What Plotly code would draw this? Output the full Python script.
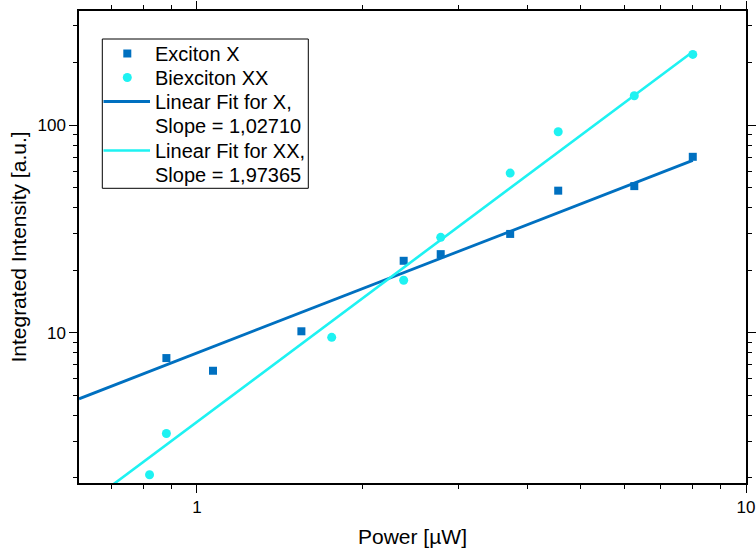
import numpy as np
import plotly.graph_objects as go

# Measured integrated intensities vs. excitation power
power_x = [0.88, 1.07, 1.55, 2.38, 2.78, 3.72, 4.55, 6.26, 8.0]
intensity_x = [7.55, 6.56, 10.16, 22.2, 23.9, 29.9, 48.3, 50.8, 70.3]

power_xx = [0.82, 0.88, 1.76, 2.38, 2.78, 3.72, 4.55, 6.26, 8.0]
intensity_xx = [2.07, 3.27, 9.5, 17.9, 28.8, 58.7, 92.8, 138.4, 218.8]

# Slopes of the linear fits in log-log space
slope_x = 1.02710
slope_xx = 1.97365
fit_power_range = [0.61, 8.0]

series_names = ["Exciton X", "Biexciton XX"]
fit_names = [
    "Linear Fit for X,",
    "Linear Fit for XX,",
]

blue = "#0070C0"
cyan = "#1EF2F2"
font_family = "Arial, 'Liberation Sans', sans-serif"

W, H = 756, 555
ML, MR, MT, MB = 79, 10, 11, 72
PW, PH = W - ML - MR, H - MT - MB


def px_x(p):
    return (p - ML) / PW


def px_y(p):
    return 1 - (p - MT) / PH


def loglog_fit_line(px, py, slope, xr):
    lx = np.log10(px)
    ly = np.log10(py)
    intercept = ly.mean() - slope * lx.mean()
    xs = np.array(xr)
    return xs, 10 ** (intercept + slope * np.log10(xs))


def slope_text(s):
    return "Slope = " + f"{s:.5f}".replace(".", ",")


fx_x, fy_x = loglog_fit_line(power_x, intensity_x, slope_x, fit_power_range)
fx_xx, fy_xx = loglog_fit_line(power_xx, intensity_xx, slope_xx, fit_power_range)

fig = go.Figure()
fig.add_trace(go.Scatter(
    x=power_x, y=intensity_x, mode="markers", name=series_names[0],
    marker=dict(symbol="square", size=8, color=blue),
))
fig.add_trace(go.Scatter(
    x=power_xx, y=intensity_xx, mode="markers", name=series_names[1],
    marker=dict(symbol="circle", size=9, color=cyan),
))
fig.add_trace(go.Scatter(
    x=fx_x, y=fy_x, mode="lines", name=fit_names[0] + " " + slope_text(slope_x),
    line=dict(color=blue, width=2.8),
))
fig.add_trace(go.Scatter(
    x=fx_xx, y=fy_xx, mode="lines", name=fit_names[1] + " " + slope_text(slope_xx),
    line=dict(color=cyan, width=2.6),
))

axis_common = dict(
    type="log",
    dtick=1,
    showgrid=False,
    zeroline=False,
    showline=True,
    linecolor="black",
    linewidth=1.5,
    mirror="ticks",
    ticks="outside",
    ticklen=8,
    tickwidth=1.3,
    tickcolor="black",
    tickfont=dict(size=17, color="black", family=font_family),
    minor=dict(ticks="outside", ticklen=4, tickwidth=1.1, tickcolor="black", dtick="D1"),
)

fig.update_xaxes(
    **axis_common,
    range=[np.log10(0.61), 1.0],
    title=dict(text="Power [µW]", font=dict(size=21, color="black", family=font_family), standoff=13),
)
fig.update_yaxes(
    **axis_common,
    range=[np.log10(1.89), np.log10(354)],
    title=dict(text="Integrated Intensity [a.u.]", font=dict(size=21, color="black", family=font_family), standoff=5),
)

# Legend box drawn by hand so the row spacing stays compact
shapes = [
    dict(type="rect", xref="paper", yref="paper",
         x0=px_x(102.3), x1=px_x(308.3), y0=px_y(188.3), y1=px_y(39),
         line=dict(color="black", width=1), fillcolor="white", layer="above"),
    dict(type="rect", xref="paper", yref="paper", xsizemode="pixel", ysizemode="pixel",
         xanchor=px_x(127.3), yanchor=px_y(53.5), x0=-4, x1=4, y0=-4, y1=4,
         line=dict(width=0), fillcolor=blue, layer="above"),
    dict(type="circle", xref="paper", yref="paper", xsizemode="pixel", ysizemode="pixel",
         xanchor=px_x(127.3), yanchor=px_y(77.5), x0=-4.5, x1=4.5, y0=-4.5, y1=4.5,
         line=dict(width=0), fillcolor=cyan, layer="above"),
    dict(type="line", xref="paper", yref="paper",
         x0=px_x(103.5), x1=px_x(150), y0=px_y(101.5), y1=px_y(101.5),
         line=dict(color=blue, width=2.8), layer="above"),
    dict(type="line", xref="paper", yref="paper",
         x0=px_x(103.5), x1=px_x(150), y0=px_y(150.5), y1=px_y(150.5),
         line=dict(color=cyan, width=2.6), layer="above"),
]

legend_rows = [
    (series_names[0], 53.5),
    (series_names[1], 77.5),
    (fit_names[0], 102),
    (slope_text(slope_x), 126.5),
    (fit_names[1], 150.5),
    (slope_text(slope_xx), 175),
]
annotations = [
    dict(text=t, xref="paper", yref="paper", x=px_x(152.5), y=px_y(yy),
         xanchor="left", yanchor="middle", showarrow=False,
         font=dict(size=20, color="black", family=font_family))
    for t, yy in legend_rows
]

fig.update_layout(
    width=W,
    height=H,
    margin=dict(l=ML, r=MR, t=MT, b=MB, autoexpand=False),
    paper_bgcolor="white",
    plot_bgcolor="white",
    font=dict(family=font_family, color="black"),
    showlegend=False,
    shapes=shapes,
    annotations=annotations,
)

fig.write_html("out.html")
